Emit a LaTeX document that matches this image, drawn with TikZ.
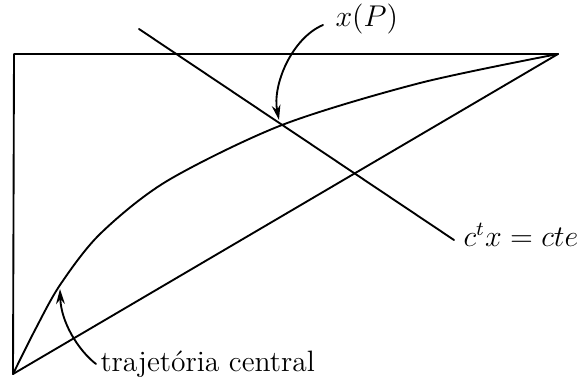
\documentclass[tikz,border=0pt]{standalone}
\usetikzlibrary{arrows.meta}
\begin{document}
\begin{tikzpicture}[x=0.4pt,y=-0.4pt,
  ln/.style={line width=0.75pt, line cap=round, line join=round},
  arr/.style={ln, -{Stealth[length=6pt,width=3.5pt]}},
  lbl/.style={inner sep=0pt, font=\fontsize{11.8}{14}\selectfont}]
\useasboundingbox (0,0) rectangle (577,379);
% vertices
\coordinate (TL) at (14,54);
\coordinate (TR) at (558,54);
\coordinate (BL) at (13,374);
% cost line ends
\coordinate (C1) at (139,29);
\coordinate (C2) at (454,240);
% polytope edges
\draw[ln] (BL) -- (TL) -- (TR);
\draw[ln] (BL) -- (TR);
% central trajectory
\draw[ln] plot[smooth, tension=0.5] coordinates {(13,374) (35,330) (60,285) (100,234) (167,181) (282,125) (420,83) (558,54)};
% c^t x = cte line
\draw[ln] (C1) -- (C2);
% labels
\node[lbl, anchor=base west] (xP) at (335,27) {$x(P)$};
\node[lbl, anchor=base west] (cte) at (463,246) {$c^tx=cte$};
\node[lbl, anchor=base west] (traj) at (100,371) {trajetória central};
% label arrows
\coordinate (xPs) at (323,25);
\coordinate (xPe) at (279,120);
\draw[arr] (xPs) .. controls (292,38) and (272,85) .. (xPe);
\coordinate (trs) at (96,364);
\coordinate (tre) at (60,289);
\draw[arr] (trs) .. controls (78,350) and (61,322) .. (tre);
\end{tikzpicture}
\end{document}
